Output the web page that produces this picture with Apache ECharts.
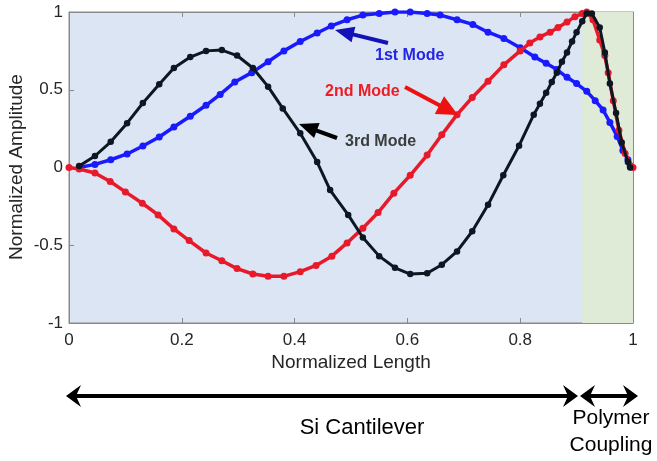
<!DOCTYPE html>
<html>
<head>
<meta charset="utf-8">
<script src="https://cdn.jsdelivr.net/npm/echarts@6/dist/echarts.min.js"></script>
<style>html,body{margin:0;padding:0;background:#fff;}#c{width:657px;height:461px;}</style>
</head>
<body>
<div id="c"></div>
<script>
// ---- data ----
const xTicks = [0, 0.2, 0.4, 0.6, 0.8, 1];
const yTicks = [-1, -0.5, 0, 0.5, 1];
const polymerStart = 0.91;

const mode1 = [[0.018,0],[0.046,0.02],[0.074,0.05],[0.103,0.087],[0.131,0.138],[0.16,0.196],[0.186,0.26],[0.215,0.33],[0.243,0.40],[0.268,0.47],[0.294,0.55],[0.324,0.61],[0.353,0.68],[0.381,0.75],[0.41,0.81],[0.44,0.865],[0.465,0.91],[0.493,0.95],[0.521,0.98],[0.55,0.99],[0.578,1.0],[0.605,1.0],[0.635,0.99],[0.658,0.98],[0.688,0.95],[0.716,0.92],[0.743,0.87],[0.771,0.83],[0.80,0.77],[0.826,0.71],[0.846,0.67],[0.865,0.63],[0.883,0.58],[0.90,0.54],[0.918,0.49],[0.933,0.43],[0.947,0.37],[0.959,0.29],[0.972,0.20],[0.982,0.11],[0.991,0.05],[0.995,0.01]];

const mode2 = [[0,0],[0.018,-0.01],[0.046,-0.035],[0.073,-0.09],[0.10,-0.157],[0.13,-0.23],[0.158,-0.305],[0.186,-0.395],[0.213,-0.47],[0.243,-0.55],[0.271,-0.60],[0.298,-0.65],[0.326,-0.685],[0.353,-0.70],[0.381,-0.70],[0.41,-0.67],[0.438,-0.63],[0.466,-0.57],[0.493,-0.485],[0.521,-0.39],[0.548,-0.29],[0.576,-0.165],[0.605,-0.05],[0.635,0.08],[0.661,0.21],[0.688,0.34],[0.715,0.45],[0.743,0.555],[0.771,0.66],[0.80,0.75],[0.817,0.80],[0.835,0.84],[0.853,0.87],[0.867,0.90],[0.883,0.935],[0.897,0.97],[0.91,0.99],[0.918,1.0],[0.929,0.95],[0.941,0.82],[0.95,0.72],[0.956,0.61],[0.965,0.43],[0.975,0.24],[0.986,0.09],[1.0,0.0]];

const mode3 = [[0.018,0.01],[0.046,0.074],[0.074,0.165],[0.103,0.285],[0.131,0.415],[0.16,0.535],[0.186,0.64],[0.215,0.71],[0.243,0.75],[0.271,0.755],[0.298,0.72],[0.326,0.64],[0.353,0.52],[0.379,0.38],[0.41,0.22],[0.44,0.035],[0.463,-0.145],[0.495,-0.305],[0.521,-0.45],[0.55,-0.57],[0.578,-0.645],[0.605,-0.685],[0.635,-0.68],[0.661,-0.625],[0.688,-0.54],[0.715,-0.41],[0.743,-0.24],[0.77,-0.05],[0.798,0.14],[0.824,0.34],[0.835,0.41],[0.846,0.48],[0.856,0.55],[0.865,0.61],[0.874,0.68],[0.883,0.74],[0.892,0.81],[0.90,0.87],[0.91,0.94],[0.918,0.99],[0.927,0.99],[0.941,0.90],[0.95,0.74],[0.959,0.54],[0.97,0.35],[0.98,0.16],[0.991,0.035],[0.995,0]];

const seriesNames = ['1st Mode', '2nd Mode', '3rd Mode'];
const regionNames = ['Si Cantilever', 'Polymer', 'Coupling'];
const axisTitles = ['Normalized Length', 'Normalized Amplitude'];

// ---- chart ----
const FONT = '"Liberation Sans", Arial, Helvetica, sans-serif';
const chart = echarts.init(document.getElementById('c'), null, {renderer: 'canvas'});

const axisCommon = {
  type: 'value', min: -1, max: 1, interval: 0.5,
  axisLine: {show: true, onZero: false, lineStyle: {color: '#8a8a8a', width: 1}},
  axisTick: {show: true, inside: true, length: 5, lineStyle: {color: '#8a8a8a'}},
  splitLine: {show: false}
};

function arrowHead(tx, ty, angle, len, half, color) {
  const bx = tx - len * Math.cos(angle), by = ty - len * Math.sin(angle);
  const px = -Math.sin(angle), py = Math.cos(angle);
  return {type: 'polygon', shape: {points: [[tx, ty], [bx + px * half, by + py * half], [bx - px * half, by - py * half]]},
          style: {fill: color}, z: 100};
}
function chevron(tx, ty, dir, color) {
  return {type: 'polygon', shape: {points: [[tx, ty], [tx - dir * 15, ty - 11], [tx - dir * 10, ty], [tx - dir * 15, ty + 11]]},
          style: {fill: color}, z: 100};
}
function annotArrow(x1, y1, x2, y2, color, len, half, w) {
  const a = Math.atan2(y2 - y1, x2 - x1);
  const ex = x2 - (len * 0.8) * Math.cos(a), ey = y2 - (len * 0.8) * Math.sin(a);
  return [
    {type: 'line', shape: {x1: x1, y1: y1, x2: ex, y2: ey}, style: {stroke: color, lineWidth: w}, z: 100},
    arrowHead(x2, y2, a, len, half, color)
  ];
}

const option = {
  animation: false,
  backgroundColor: '#ffffff',
  grid: {left: 69, right: 24, top: 12, bottom: 138, outerBoundsMode: 'none', containLabel: false,
         show: true, backgroundColor: '#dbe5f3', borderColor: '#8a8a8a', borderWidth: 1},
  xAxis: [
    Object.assign({}, axisCommon, {
      min: 0, max: 1, interval: 0.2, position: 'bottom',
      name: axisTitles[0], nameLocation: 'middle', nameGap: 30, nameMoveOverlap: false,
      nameTextStyle: {fontFamily: FONT, fontSize: 19, color: '#262626'},
      axisLabel: {fontFamily: FONT, fontSize: 17, color: '#262626', margin: 9,
        formatter: v => xTicks.includes(+v.toFixed(1)) ? String(+v.toFixed(1)) : ''}
    }),
    Object.assign({}, axisCommon, {min: 0, max: 1, interval: 0.2, position: 'top', axisLabel: {show: false}})
  ],
  yAxis: [
    Object.assign({}, axisCommon, {
      position: 'left',
      axisLabel: {fontFamily: FONT, fontSize: 17, color: '#262626', margin: 6,
        formatter: v => yTicks.includes(v) ? String(v) : ''}
    }),
    Object.assign({}, axisCommon, {position: 'right', axisLabel: {show: false}})
  ],
  series: [
    {
      name: seriesNames[0], type: 'line', data: mode1, symbol: 'circle', symbolSize: 7,
      lineStyle: {color: '#1a1aff', width: 3.5}, itemStyle: {color: '#1a1aff'}, z: 3,
      markArea: {silent: true, itemStyle: {color: '#dfead7'}, data: [[{xAxis: polymerStart}, {xAxis: 1}]]}
    },
    {
      name: seriesNames[1], type: 'line', data: mode2, symbol: 'circle', symbolSize: 7,
      lineStyle: {color: '#e8192a', width: 3.5}, itemStyle: {color: '#e8192a'}, z: 4
    },
    {
      name: seriesNames[2], type: 'line', data: mode3, symbol: 'circle', symbolSize: 6.5,
      lineStyle: {color: '#0c1722', width: 3}, itemStyle: {color: '#0c1722'}, z: 5
    }
  ],
  graphic: [].concat(
    annotArrow(388, 43, 335, 30, '#1212b8', 19, 8, 4),
    annotArrow(405, 87, 458, 115, '#ee1111', 21, 10, 4),
    annotArrow(337, 138, 299, 124, '#000000', 19, 8, 4),
    [
      {type: 'text', x: 17, y: 167, rotation: Math.PI / 2,
       style: {text: axisTitles[1], font: '19px ' + FONT, fill: '#262626', align: 'center', verticalAlign: 'middle'}, z: 100},
      {type: 'text', x: 375, y: 56, style: {text: seriesNames[0], font: 'bold 16px ' + FONT, fill: '#2424e6', verticalAlign: 'middle'}, z: 100},
      {type: 'text', x: 325, y: 92, style: {text: seriesNames[1], font: 'bold 16px ' + FONT, fill: '#ee1c24', verticalAlign: 'middle'}, z: 100},
      {type: 'text', x: 345, y: 142, style: {text: seriesNames[2], font: 'bold 16px ' + FONT, fill: '#3c3c3c', verticalAlign: 'middle'}, z: 100},
      // bottom region arrows
      {type: 'line', shape: {x1: 74, y1: 396, x2: 570, y2: 396}, style: {stroke: '#000', lineWidth: 4}, z: 100},
      chevron(66, 396, -1, '#000'),
      chevron(578, 396, 1, '#000'),
      {type: 'line', shape: {x1: 588, y1: 396, x2: 630, y2: 396}, style: {stroke: '#000', lineWidth: 4}, z: 100},
      chevron(580, 396, -1, '#000'),
      chevron(638, 396, 1, '#000'),
      {type: 'text', x: 362, y: 428, style: {text: regionNames[0], font: '22px ' + FONT, fill: '#000', align: 'center', verticalAlign: 'middle'}, z: 100},
      {type: 'text', x: 611, y: 418, style: {text: regionNames[1], font: '21px ' + FONT, fill: '#000', align: 'center', verticalAlign: 'middle'}, z: 100},
      {type: 'text', x: 611, y: 445, style: {text: regionNames[2], font: '21px ' + FONT, fill: '#000', align: 'center', verticalAlign: 'middle'}, z: 100}
    ]
  )
};
chart.setOption(option);
</script>
</body>
</html>
